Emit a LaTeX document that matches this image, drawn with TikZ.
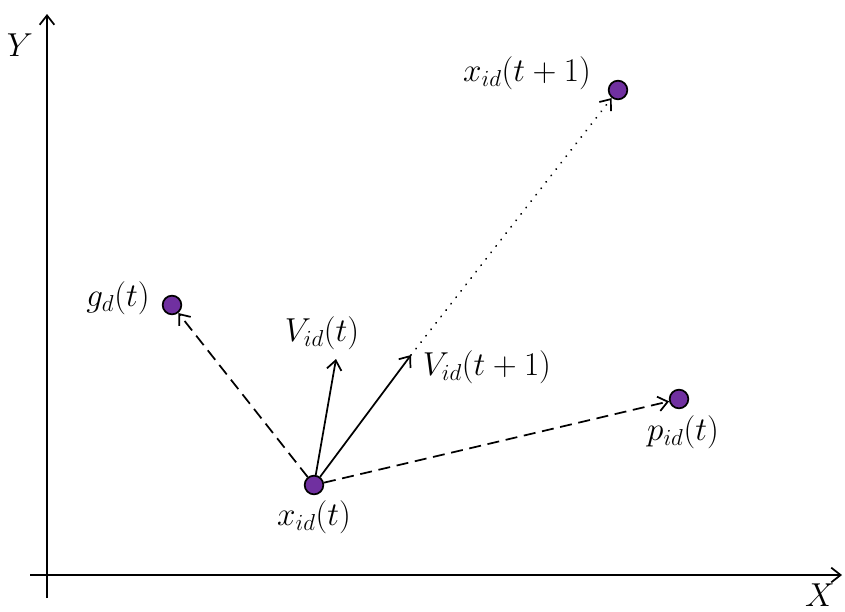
\documentclass[tikz,border=0pt]{standalone}
\usetikzlibrary{arrows.meta}
\definecolor{ptpurple}{RGB}{112,48,160}
\begin{document}
\begin{tikzpicture}[x=0.75pt,y=-0.75pt,
  pt/.style={circle,draw=black,line width=1.3pt,fill=ptpurple,minimum size=14pt,inner sep=0pt},
  lbl/.style={font=\fontsize{23}{27}\selectfont,inner sep=1pt},
  arr/.style={line width=1.3pt,-{Straight Barb[length=7pt,width=11pt,line width=1.3pt]}},
  dsh/.style={arr,dash pattern=on 9pt off 5pt}
]
\useasboundingbox (0,0) rectangle (845,611);
% axes
\coordinate (yb) at (47,598);
\coordinate (yt) at (47,14);
\coordinate (xl) at (30,575);
\coordinate (xr) at (842,575);
\draw[arr] (yb) -- (yt);
\draw[arr] (xl) -- (xr);
\node[lbl] (Y) at (20,45) {$Y$};
\node[lbl,inner sep=0pt] (X) at (820,595) {$X$};
% points
\node[pt] (x) at (314,485) {};
\node[pt] (g) at (172,305) {};
\node[pt] (xn) at (618,90) {};
\node[pt] (p) at (679,399) {};
% labels
\node[lbl] (xlab) at (314,517) {$x_{id}(t)$};
\node[lbl] (glab) at (118,298) {$g_d(t)$};
\node[lbl] (xnlab) at (527,73) {$x_{id}(t+1)$};
\node[lbl] (plab) at (683,432) {$p_{id}(t)$};
\node[lbl] (v1lab) at (322,333) {$V_{id}(t)$};
\node[lbl] (v2lab) at (487,367) {$V_{id}(t+1)$};
% vectors
\coordinate (v1) at (336,359);
\coordinate (v2) at (411,355);
\draw[arr] (x) -- (v1);
\draw[arr] (x) -- (v2);
\draw[dsh] (x) -- (g);
\draw[dsh] (x) -- (p);
\draw[line width=1.5pt,dash pattern=on 0.1pt off 6pt,line cap=round,-{Straight Barb[length=7pt,width=11pt,line width=1.3pt]}] (v2) -- (xn);
\end{tikzpicture}
\end{document}
